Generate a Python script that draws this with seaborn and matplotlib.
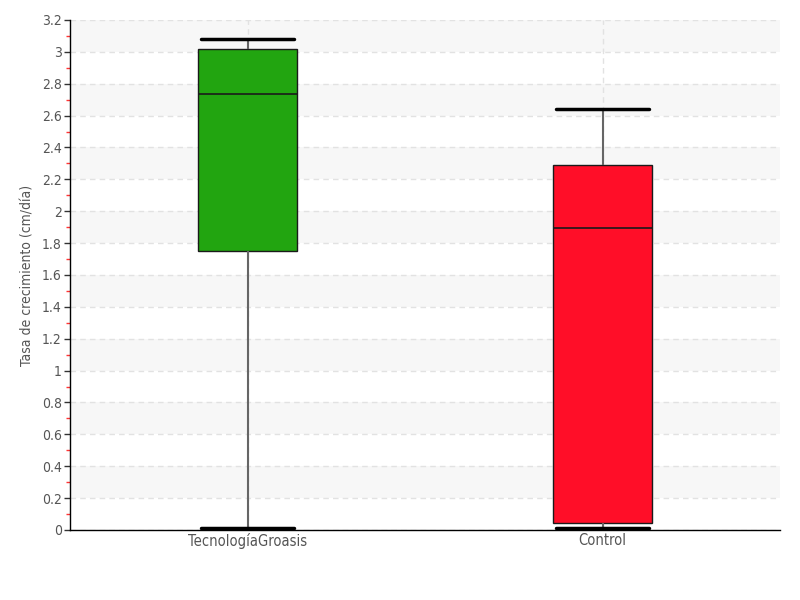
import numpy as np
import pandas as pd
import seaborn as sns
import matplotlib.pyplot as plt
from matplotlib.ticker import MultipleLocator, FuncFormatter

# Five-number summaries (min, q1, median, q3, max)
groups = ['TecnologíaGroasis', 'Control']
groasis_vals = [0.01, 1.75, 2.735, 3.02, 3.08]
control_vals = [0.01, 0.045, 1.895, 2.29, 2.64]
box_colors = ['#22A510', '#FF0E28']
y_label = 'Tasa de crecimiento (cm/día)'

df = pd.DataFrame({
    'grupo': [groups[0]] * len(groasis_vals) + [groups[1]] * len(control_vals),
    'tasa': groasis_vals + control_vals,
})

sns.set_style('white')
plt.rcParams['font.family'] = ['DejaVu Sans']
plt.rcParams['font.stretch'] = 'condensed'

fig = plt.figure(figsize=(8, 6), dpi=100)
ax = fig.add_axes([0.0875, 0.1167, 0.8875, 0.85])

# alternating bands
for lo in np.arange(0.2, 3.2, 0.4):
    ax.axhspan(lo, lo + 0.2, color='#F7F7F7', zorder=0, lw=0)

box_w = 0.28
sns.boxplot(data=df, x='grupo', y='tasa', hue='grupo', palette=box_colors,
            order=groups, hue_order=groups, width=box_w, whis=np.inf,
            linecolor='#1a1a1a', linewidth=1, saturation=1, legend=False,
            whiskerprops=dict(color='#666666', linewidth=1.5),
            capprops=dict(color='black', linewidth=2.5),
            medianprops=dict(color='#1a1a1a', linewidth=1.2),
            ax=ax)

# widen caps to box width
for i, cont in enumerate(ax.containers):
    for cap in cont.caps:
        cap.set_xdata([i - box_w * 0.47, i + box_w * 0.47])
        cap.set_color('black')

ax.set_xlim(-0.5, 1.5)
ax.set_ylim(0, 3.2)
ax.yaxis.set_major_locator(MultipleLocator(0.2))
ax.yaxis.set_minor_locator(MultipleLocator(0.1))
ax.yaxis.set_major_formatter(FuncFormatter(lambda v, p: f'{v:.1f}'.rstrip('0').rstrip('.')))

ax.grid(axis='y', which='major', color='#E2E2E2', linestyle=(0, (4, 3)), linewidth=1, zorder=0.5)
ax.grid(axis='x', which='major', color='#E2E2E2', linestyle=(0, (4, 3)), linewidth=1, zorder=0.5)
ax.set_axisbelow(True)

for s in ['top', 'right']:
    ax.spines[s].set_visible(False)
for s in ['left', 'bottom']:
    ax.spines[s].set_color('black')
    ax.spines[s].set_linewidth(1)

ax.tick_params(axis='y', which='major', direction='out', length=4, width=1, color='#333333',
               labelsize=10, labelcolor='#555555', left=True, pad=2)
ax.tick_params(axis='y', which='minor', direction='out', length=3, width=1, color='#FF3333', left=True)
ax.tick_params(axis='x', which='major', length=0, labelsize=10.5, labelcolor='#555555', pad=2)

ax.set_xlabel('')
ax.set_ylabel(y_label, fontsize=10, color='#555555')
ax.yaxis.set_label_coords(-0.05, 0.5)

fig.savefig('out.png', dpi=100)
